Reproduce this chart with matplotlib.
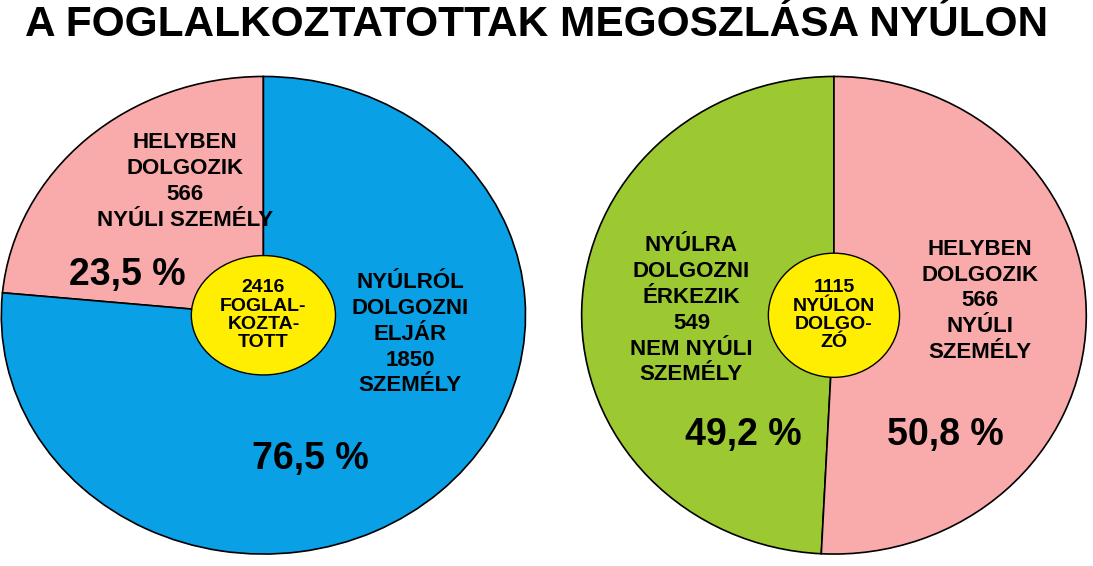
import matplotlib.pyplot as plt
from matplotlib.patches import Ellipse

plt.rcParams['font.family'] = ['Liberation Sans', 'DejaVu Sans']

left_vals = [23.5, 76.5]
left_colors = ['#f9abab', '#0aa0e6']
right_vals = [49.2, 50.8]
right_colors = ['#9cc932', '#f9abab']

fig = plt.figure(figsize=(10.93, 5.66), dpi=100)
fig.text(0.023, 0.955, 'A FOGLALKOZTATOTTAK MEGOSZLÁSA NYÚLON', fontsize=30.5,
         fontweight='bold', va='center', ha='left')

def draw(rect, vals, colors, texts, center, crx, cry):
    ax = fig.add_axes(rect)
    ax.pie(vals, colors=colors, startangle=90, counterclock=True,
           wedgeprops=dict(edgecolor='black', linewidth=1.2))
    ax.set_aspect('auto')
    ax.set_xlim(-1.005, 1.005)
    ax.set_ylim(-1.005, 1.005)
    ax.add_patch(Ellipse((0, 0), 2 * crx, 2 * cry, facecolor='#ffee00',
                         edgecolor='black', linewidth=1, zorder=3))
    ax.text(0, 0, center, ha='center', va='center', fontsize=14,
            fontweight='bold', linespacing=1.1, zorder=4)
    for x, y, s, fs in texts:
        ax.text(x, y, s, ha='center', va='center', fontsize=fs,
                fontweight='bold', linespacing=1.3)
    ax.axis('off')

draw([0, 0.019, 0.482, 0.848], left_vals, left_colors,
     [(-0.30, 0.56, 'HELYBEN\nDOLGOZIK\n566\nNYÚLI SZEMÉLY', 16),
      (-0.52, 0.17, '23,5 %', 27),
      (0.56, -0.08, 'NYÚLRÓL\nDOLGOZNI\nELJÁR\n1850\nSZEMÉLY', 16),
      (0.18, -0.6, '76,5 %', 27)],
     '2416\nFOGLAL-\nKOZTA-\nTOTT', 0.275, 0.25)

draw([0.531, 0.019, 0.464, 0.848], right_vals, right_colors,
     [(-0.565, 0.02, 'NYÚLRA\nDOLGOZNI\nÉRKEZIK\n549\nNEM NYÚLI\nSZEMÉLY', 16),
      (-0.36, -0.5, '49,2 %', 27),
      (0.58, 0.06, 'HELYBEN\nDOLGOZIK\n566\nNYÚLI\nSZEMÉLY', 16),
      (0.44, -0.5, '50,8 %', 27)],
     '1115\nNYÚLON\nDOLGO-\nZÓ', 0.26, 0.26)

fig.savefig('out.png', dpi=100, facecolor='white')
